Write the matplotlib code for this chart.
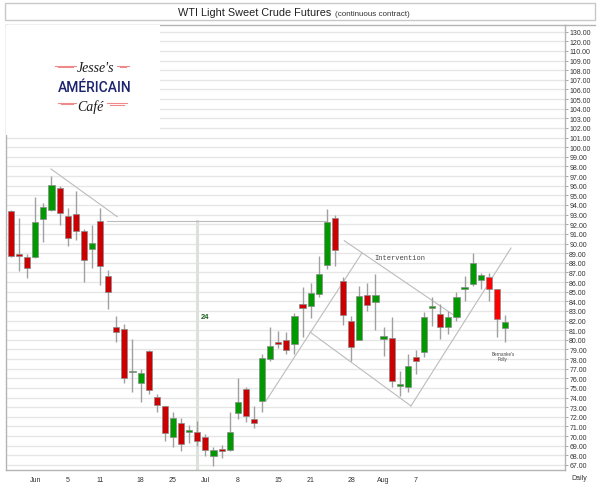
import matplotlib
matplotlib.use("Agg")
import matplotlib.pyplot as plt
from matplotlib.patches import Rectangle
from matplotlib.lines import Line2D
import numpy as np

plt.rcParams['font.family'] = ['Liberation Sans', 'DejaVu Sans']

# daily OHLC (one entry per trading day)
opens = [93.4, 88.9, 88.57, 88.57, 92.55, 93.5, 95.76, 92.89, 93.03, 91.33,
         89.43, 92.31, 86.66, 81.36, 81.12, 76.63, 75.51, 78.87, 74.09, 73.09,
         69.94, 71.36, 70.46, 70.4, 69.94, 67.97, 68.59, 68.56, 72.37, 74.89,
         71.78, 73.68, 78.0, 79.74, 79.98, 79.6, 83.72, 83.48, 84.76, 87.77,
         92.62, 86.14, 81.98, 80.01, 84.65, 83.96, 80.08, 80.16, 75.24, 75.1,
         78.25, 78.77, 83.27, 82.68, 81.3, 82.4, 85.28, 85.8, 86.24, 86.49,
         85.28, 81.2]
highs = [93.5, 92.6, 88.9, 94.8, 94.2, 97.04, 96.0, 93.66, 95.48, 91.5,
         91.92, 93.66, 87.28, 82.44, 81.64, 80.08, 76.97, 78.9, 74.37, 73.1,
         72.47, 71.85, 71.15, 71.54, 70.2, 68.84, 69.1, 72.47, 76.0, 75.07,
         73.1, 78.53, 81.3, 80.95, 80.84, 82.78, 85.45, 85.87, 88.67, 93.58,
         92.96, 86.5, 82.44, 85.56, 85.9, 86.83, 81.3, 82.34, 76.73, 78.53,
         78.94, 82.86, 84.41, 83.72, 83.02, 84.93, 86.66, 89.0, 86.9, 86.93,
         85.3, 82.58]
lows = [88.6, 87.1, 86.4, 88.5, 90.2, 93.4, 91.9, 89.7, 90.4, 85.97,
        87.43, 85.7, 83.2, 79.74, 75.48, 74.55, 73.57, 74.37, 72.47, 69.52,
        68.84, 68.48, 69.28, 69.0, 67.97, 66.93, 67.73, 68.5, 71.78, 71.43,
        70.81, 72.53, 77.83, 79.12, 78.53, 78.53, 80.26, 82.23, 84.41, 87.35,
        87.7, 81.57, 77.83, 80.0, 83.02, 81.05, 78.35, 75.07, 74.2, 74.55,
        76.45, 78.18, 81.47, 80.08, 80.6, 82.0, 84.08, 85.6, 85.28, 84.08,
        80.26, 79.82]
closes = [88.7, 88.7, 87.43, 92.2, 93.82, 96.08, 93.14, 90.6, 91.3, 88.29,
          90.05, 87.7, 84.93, 80.78, 76.0, 76.8, 76.55, 74.82, 73.23, 70.32,
          71.88, 69.21, 70.63, 69.46, 68.56, 68.59, 68.48, 70.4, 73.51, 72.06,
          71.36, 78.11, 79.33, 79.6, 78.94, 82.5, 83.27, 84.86, 86.83, 92.27,
          89.36, 82.61, 79.28, 84.52, 83.61, 84.65, 80.36, 75.69, 75.35, 77.31,
          77.8, 82.34, 83.48, 81.3, 82.34, 84.48, 85.4, 87.94, 86.73, 85.28,
          82.16, 81.88]

date_idx = [3, 7, 11, 16, 20, 24, 28, 33, 37, 42, 46, 50]
date_labels = ['Jun', '5', '11', '18', '25', 'Jul', '8', '15', '21', '28', 'Aug', '7']

price_labels = ['%.2f' % v for v in range(67, 111)] + ['120.00', '130.00']

# hand-drawn trend lines (day index, price)
trend_lines = [
    [(4.94, 97.74), (13.12, 92.78)],
    [(11.85, 92.38), (39.0, 92.38)],
    [(41.15, 90.29), (55.19, 82.26)],
    [(31.48, 73.65), (43.33, 89.01)],
    [(36.91, 80.81), (49.38, 73.13)],
    [(49.38, 73.13), (61.73, 89.53)],
]
count_line_x = 22.93

W, H = 600, 489
fig = plt.figure(figsize=(6, 4.89), dpi=100)
ax = fig.add_axes([6 / W, 1 - 471 / H, 559 / W, 445 / H])

o = np.array(opens)
h = np.array(highs)
l = np.array(lows)
c = np.array(closes)
x = np.arange(len(o))
up = c >= o

green = '#009a00'
red = '#cc0000'
colors = np.where(up, green, red).astype(object)
colors[-3:-1] = '#ff0000'

ax.vlines(x, l, h, color='#a0a0a0', lw=1, zorder=3)
bottoms = np.minimum(o, c)
heights = np.maximum(np.abs(c - o), 0.18)
ax.bar(x, heights, bottom=bottoms, width=0.76, color=list(colors),
       edgecolor='#8a8a8a', linewidth=0.5, zorder=4)

for seg in trend_lines:
    (x0, y0), (x1, y1) = seg
    ax.plot([x0, x1], [y0, y1], color='#bcbcbc', lw=0.8, zorder=2)
ax.plot([count_line_x, count_line_x], [92.38, 60], color='#dae2da', lw=2.2, zorder=1)

ax.text(23.95, 82.37, '24', color='#1e5e1e', fontsize=5.5, fontweight='bold',
        ha='center', va='center', zorder=5)
ax.text(48.0, 88.5, 'Intervention', color='#444444', fontsize=5,
        ha='center', va='center', family=['Liberation Mono', 'DejaVu Sans Mono'], zorder=5)
ax.text(60.74, 78.32, "Bernanke's\nFolly", color='#444444', fontsize=3.3,
        ha='center', va='center', linespacing=1.0, zorder=5)

ax.set_xlim(-0.617, 68.4)
ax.set_ylim(66.48, 112.69)

ax.set_yticks(np.arange(67, 113))
ax.set_yticklabels(price_labels)
ax.yaxis.tick_right()
ax.tick_params(axis='y', length=2, width=0.6, color='#999999', pad=1,
               labelsize=5, labelcolor='#333333')
ax.set_xticks(date_idx)
ax.set_xticklabels(date_labels)
ax.tick_params(axis='x', length=0, pad=4, labelsize=5, labelcolor='#333333')
ax.grid(axis='y', color='#e6e6e6', lw=1)
ax.set_axisbelow(True)
for sp in ax.spines.values():
    sp.set_color('#b4b4b4')
    sp.set_linewidth(1)

# outer frame bits and title box
fig.add_artist(Line2D([565 / W, 595 / W], [1 - 26 / H, 1 - 26 / H],
                      color='#b4b4b4', lw=1, transform=fig.transFigure))
fig.add_artist(Rectangle((5 / W, 1 - 21 / H), 590 / W, 17 / H, transform=fig.transFigure,
                         facecolor='white', edgecolor='#c8c8c8', lw=1))
fig.text(331 / W, 1 - 16 / H, 'WTI Light Sweet Crude Futures', fontsize=7.8,
         ha='right', va='baseline', color='#222222')
fig.text(335 / W, 1 - 16 / H, '(continuous contract)', fontsize=5.8,
         ha='left', va='baseline', color='#333333')
fig.text(579 / W, 1 - 479 / H, 'Daily', fontsize=5, ha='center', va='center', color='#333333')

# blog logo in the upper left corner
lg = fig.add_axes([6 / W, 1 - 136 / H, 154 / W, 110 / H])
lg.set_facecolor('white')
lg.set_xlim(0, 154)
lg.set_ylim(110, 0)
lg.set_xticks([])
lg.set_yticks([])
for sp in lg.spines.values():
    sp.set_visible(False)
lg.text(90, 43, "Jesse's", fontsize=10, style='italic', family=['Liberation Serif', 'DejaVu Serif'],
        ha='center', va='center', color='#1a1a1a')
lg.text(88.5, 61.5, 'AMÉRICAIN', fontsize=10, family=['Roboto', 'Liberation Sans'],
        fontweight='medium', ha='center', va='center', color='#1c2470')
lg.text(84, 81, 'Café', fontsize=10, style='italic', family=['Liberation Serif', 'DejaVu Serif'],
        ha='center', va='center', color='#1a1a1a')
pink = '#ef8a8a'
for (a, b, yy) in [(49, 70, 41.5), (111, 123, 41.5), (52, 70, 78.5), (101, 121, 79)]:
    lg.plot([a, b], [yy - 0.8, yy - 0.8], color=pink, lw=0.8)
    lg.plot([a + 3, b - 3], [yy + 0.8, yy + 0.8], color=pink, lw=0.8)

fig.savefig('out.png', dpi=100)
